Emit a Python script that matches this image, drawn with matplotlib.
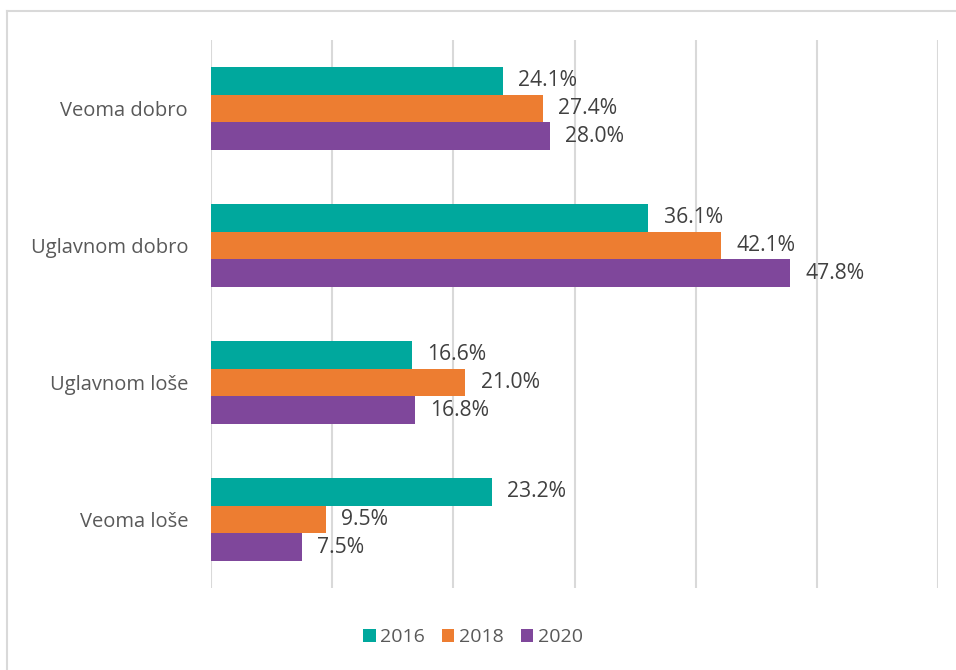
import numpy as np
import matplotlib.pyplot as plt
from matplotlib.lines import Line2D

categories = ["Veoma dobro", "Uglavnom dobro", "Uglavnom loše", "Veoma loše"]
years = ["2016", "2018", "2020"]
v2016 = [24.1, 36.1, 16.6, 23.2]
v2018 = [27.4, 42.1, 21.0, 9.5]
v2020 = [28.0, 47.8, 16.8, 7.5]
colors = ["#00A89D", "#ED7D31", "#7F479B"]

plt.rcParams["font.family"] = ["Open Sans", "DejaVu Sans"]
label_color = "#595959"
value_color = "#404040"

fig = plt.figure(figsize=(9.56, 6.7), dpi=100)
ax = fig.add_axes([211 / 956, 1 - 588 / 670, (938 - 211) / 956, (588 - 40) / 670])

y = np.arange(len(categories))
h = 0.204
for i, (vals, col, lab) in enumerate(zip([v2016, v2018, v2020], colors, years)):
    pos = y + (i - 1) * h
    ax.barh(pos, vals, height=h, color=col, label=lab, zorder=3)
    for p, v in zip(pos, vals):
        ax.text(v + 1.25, p, f"{v:.1f}%", va="center", ha="left",
                fontsize=15.2, color=value_color)

ax.set_xlim(0, 60)
ax.set_ylim(len(categories) - 0.5, -0.5)
ax.set_xticks(np.arange(0, 61, 10))
ax.set_xticklabels([])
ax.tick_params(axis="x", length=0)
ax.tick_params(axis="y", length=0, pad=16.5, labelsize=14.5, labelcolor=label_color)
ax.set_yticks(y)
ax.set_yticklabels(categories)
ax.grid(axis="x", color="#D9D9D9", linewidth=1.5, zorder=0)
for s in ax.spines.values():
    s.set_visible(False)

fig.legend(loc="center", bbox_to_anchor=(473 / 956, 1 - 637 / 670), ncol=3,
           frameon=False, fontsize=14, labelcolor=label_color,
           handlelength=0.65, handleheight=0.65, handletextpad=0.25, columnspacing=0.85)

# chart border (only top and left edges visible in the crop)
fig.add_artist(Line2D([7 / 956, 7 / 956], [0, 1 - 11 / 670], color="#D9D9D9", lw=1.5))
fig.add_artist(Line2D([7 / 956, 1], [1 - 11 / 670, 1 - 11 / 670], color="#D9D9D9", lw=1.5))

fig.savefig("out.png", dpi=100)
